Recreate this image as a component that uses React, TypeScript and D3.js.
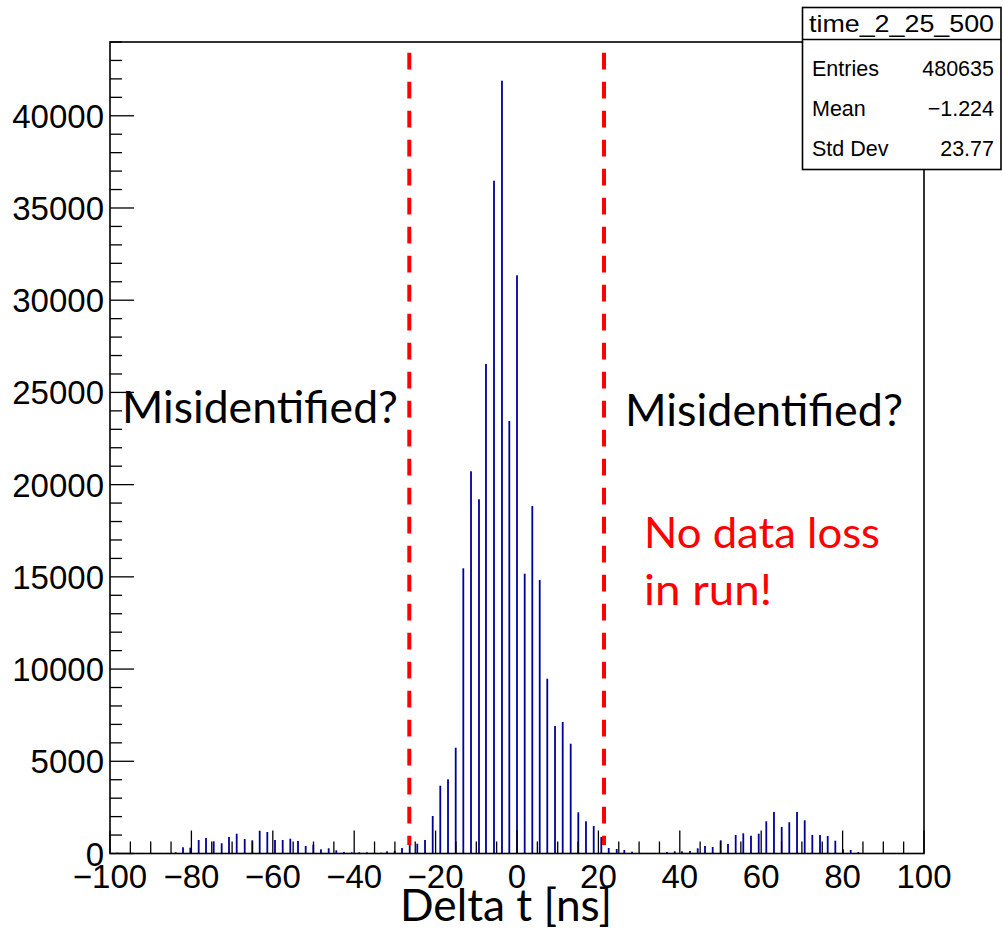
import React from "react";
import * as d3 from "d3";

// Bin centres (Delta t, ns) of the non-empty bins and their counts
const deltaT = [-98.2, -93.4, -91.6, -89.7, -87.7, -86.0,
  -83.86, -82.06, -80.27, -78.21, -76.41, -74.52, -72.56, -70.76, -68.87, -66.90, -65.04, -63.22, -61.35, -59.46, -57.57, -55.70, -53.81, -51.92, -50.05, -48.16, -46.27, -44.40, -42.51, -40.61, -38.75, -36.86,
  -35.01, -33.4, -31.94, -30.05, -28.26, -26.36, -24.50, -22.60, -20.71, -18.85, -16.95, -15.06, -13.19, -11.30, -9.34, -7.62, -5.65, -3.69, -1.89,
  0,
  1.89, 3.76, 5.58, 7.44, 9.34, 11.23, 13.19, 15.06, 16.95, 18.85, 20.71, 22.53, 24.50, 26.36, 28.26,
  30.15, 32.0, 34.96, 36.86, 38.75, 40.54, 42.51, 44.40, 46.19, 48.08, 50.05, 51.84, 53.73, 55.60, 57.49, 59.39, 61.25, 63.14, 65.04, 66.90, 68.80, 70.69, 72.56, 74.45, 76.34, 78.21, 80.10, 81.99, 83.86, 85.75, 87.71, 91.40, 94.35, 96.24, 98.11];

const counts = [40, 20, 20, 20, 25, 30,
  65, 336, 314, 732, 840, 661, 553, 895, 1074, 786, 716, 1236, 1166, 732, 732, 802, 678, 407, 477, 228, 282, 174, 81, 65, 65, 65,
  40, 40, 119, 136, 298, 499, 531, 732, 2033, 3676, 4023, 5737, 15464, 20723, 19205, 26541, 36479, 41901, 23450,
  31350,
  15171, 18841, 14831, 9478, 6913, 7130, 5953, 2234, 1746, 1491, 895, 298, 244, 190, 98,
  30, 30, 20, 81, 119, 119, 136, 282, 407, 352, 716, 515, 1003, 1095, 965, 1074, 1746, 2250, 1437, 1692, 2250, 1800, 1003, 1003, 949, 694, 228, 190, 81, 30, 20, 20, 30, 30, 30];

const xTicks = [-100, -80, -60, -40, -20, 0, 20, 40, 60, 80, 100];
const yTicks = [0, 5000, 10000, 15000, 20000, 25000, 30000, 35000, 40000];
const cutLines = [-26.46, 21.38];
const statsTitle = "time_2_25_500";
const statsRows = [["Entries", "480635"], ["Mean", "\u22121.224"], ["Std Dev", "23.77"]];

const W = 1003, H = 929;
const L = 110, R = 924, T = 42, B = 853.5;

export default function App() {
  const x = d3.scaleLinear().domain([-100, 100]).range([L, R]);
  const y = d3.scaleLinear().domain([0, 44000]).range([B, T]);
  const xMinor = d3.range(-100, 100.01, 5);
  const yMinor = d3.range(0, 44001, 1000);
  const fmt = (v: number) => (v < 0 ? "\u2212" + Math.abs(v) : String(v));
  const axisFont = "'Liberation Sans', Arial, Helvetica, sans-serif";
  const noteFont = "Lato, 'Open Sans', sans-serif";
  const blue = "#000099";

  return (
    <svg width={W} height={H} style={{ position: "absolute", left: 0, top: 0, background: "#fff" }}>
      <rect x={0} y={0} width={W} height={H} fill="#fff" />
      {/* histogram bars */}
      {deltaT.map((t, i) => (
        <rect key={i} x={x(t) - 0.9} width={1.8} y={y(counts[i])} height={B - y(counts[i])} fill={blue} />
      ))}
      {/* frame */}
      <rect x={L} y={T} width={R - L} height={B - T} fill="none" stroke="#000" strokeWidth={1.6} />
      {/* x ticks */}
      {xMinor.map((v, i) => {
        const major = Math.abs(v % 20) < 1e-6;
        return <line key={"xm" + i} x1={x(v)} x2={x(v)} y1={B} y2={B - (major ? 23 : 12)} stroke="#000" strokeWidth={1.3} />;
      })}
      {/* y ticks */}
      {yMinor.map((v, i) => {
        const major = v % 5000 === 0;
        return <line key={"ym" + i} x1={L} x2={L + (major ? 24 : 12)} y1={y(v)} y2={y(v)} stroke="#000" strokeWidth={1.3} />;
      })}
      {xTicks.map((v) => (
        <text key={"xl" + v} x={x(v)} y={888} textAnchor="middle" fontFamily={axisFont} fontSize={33} fill="#000">{fmt(v)}</text>
      ))}
      {yTicks.map((v) => (
        <text key={"yl" + v} x={104} y={y(v) + 12} textAnchor="end" fontFamily={axisFont} fontSize={33} fill="#000">{fmt(v)}</text>
      ))}
      <text x={506} y={921} textAnchor="middle" fontFamily={noteFont} fontSize={45} textLength={212} lengthAdjust="spacingAndGlyphs" fill="#000">Delta t [ns]</text>

      {/* cut lines */}
      {cutLines.map((c, i) => (
        <line key={"cut" + i} x1={x(c)} x2={x(c)} y1={y(43420)} y2={y(460)} stroke="#ff0000" strokeWidth={4} strokeDasharray="16.7 12.3" />
      ))}

      {/* annotations */}
      <text x={122} y={423} fontFamily={noteFont} fontSize={44} textLength={276} lengthAdjust="spacingAndGlyphs" fill="#000">Misidentified?</text>
      <text x={625} y={426} fontFamily={noteFont} fontSize={44} textLength={278} lengthAdjust="spacingAndGlyphs" fill="#000">Misidentified?</text>
      <text x={644} y={548} fontFamily={noteFont} fontSize={42} textLength={236} lengthAdjust="spacingAndGlyphs" fill="#ff0000">No data loss</text>
      <text x={644} y={605} fontFamily={noteFont} fontSize={42} textLength={128} lengthAdjust="spacingAndGlyphs" fill="#ff0000">in run!</text>

      {/* stats box */}
      <g>
        <rect x={802.5} y={7.5} width={198.5} height={162} fill="#fff" stroke="#000" strokeWidth={1.6} />
        <line x1={802.5} x2={1001} y1={39.5} y2={39.5} stroke="#000" strokeWidth={1.3} />
        <text x={809} y={32} fontFamily={axisFont} fontSize={24} textLength={185} lengthAdjust="spacingAndGlyphs" fill="#000">{statsTitle}</text>
        {statsRows.map((r, i) => (
          <g key={r[0]}>
            <text x={812} y={76 + i * 40} fontFamily={axisFont} fontSize={21.5} fill="#000">{r[0]}</text>
            <text x={994} y={76 + i * 40} textAnchor="end" fontFamily={axisFont} fontSize={21.5} fill="#000">{r[1]}</text>
          </g>
        ))}
      </g>
    </svg>
  );
}
